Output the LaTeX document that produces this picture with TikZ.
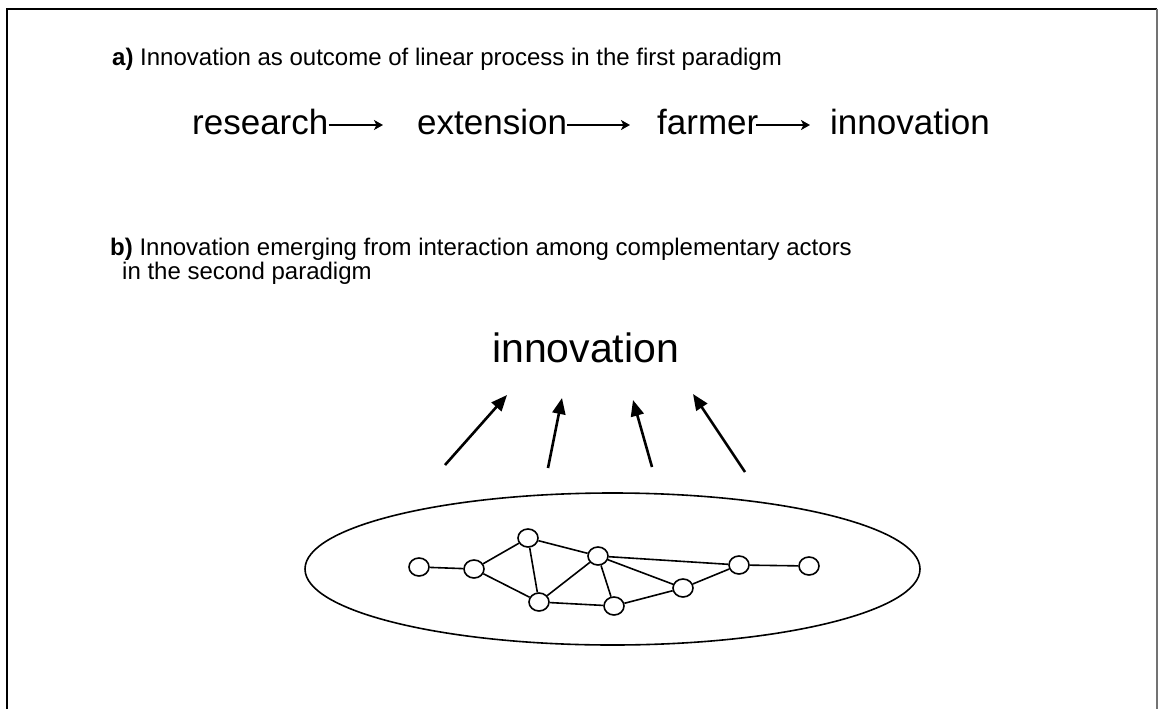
\documentclass[tikz,border=0pt]{standalone}
\usepackage{fontspec}
\setmainfont{Liberation Sans}
\usetikzlibrary{arrows.meta,shapes.geometric}
\begin{document}
\begin{tikzpicture}[x=1pt,y=-1pt,
  lbl/.style={anchor=base west, inner sep=0pt, font=\fontsize{24}{24}\selectfont},
  word/.style={anchor=base west, inner sep=0pt, text height=18pt, text depth=0pt, font=\fontsize{35}{35}\selectfont},
  bigword/.style={anchor=base west, inner sep=0pt, font=\fontsize{41}{41}\selectfont},
  arrA/.style={line width=1.8pt, -{Stealth[length=9pt,width=10pt,inset=2.5pt]}},
  arrB/.style={line width=2.6pt, -{Triangle[length=16pt,width=13pt]}},
  actor/.style={draw, line width=1.6pt, ellipse, minimum width=20pt, minimum height=18pt, inner sep=0pt, fill=white},
  tie/.style={line width=1.6pt},
  field/.style={draw, line width=1.6pt, ellipse, minimum width=615pt, minimum height=152pt, inner sep=0pt},
  frameline/.style={line width=2pt}]
\useasboundingbox (0,0) rectangle (1158,709);
% frame
\draw[frameline] (7,709) -- (7,9) -- (1157,9);
\draw[line width=1.2pt, black!55] (1157,9) -- (1157,709);

% part a
\node[lbl] (alabel) at (112,65) {\textbf{a)} Innovation as outcome of linear process in the first paradigm};
\node[word] (research) at (192,134) {research};
\node[word] (extension) at (417,134) {extension};
\node[word] (farmer) at (657,134) {farmer};
\node[word] (innovA) at (830,134) {innovation};
\draw[arrA, shorten >=34pt] (research.east) -- (extension.west);
\draw[arrA, shorten >=27pt] (extension.east) -- (farmer.west);
\draw[arrA, shorten <=-3pt, shorten >=20pt] (farmer.east) -- (innovA.west);

% part b
\node[lbl] (blabel) at (110,255) {\textbf{b)} Innovation emerging from interaction among complementary actors};
\node[lbl] (blabel2) at (122,279) {in the second paradigm};
\node[bigword] (innovB) at (492,362) {innovation};

\coordinate (t1) at (445,465); \coordinate (h1) at (507,395);
\coordinate (t2) at (548,468); \coordinate (h2) at (562,398);
\coordinate (t3) at (652,467); \coordinate (h3) at (633,400);
\coordinate (t4) at (745,472); \coordinate (h4) at (693,394);
\draw[arrB] (t1) -- (h1);
\draw[arrB] (t2) -- (h2);
\draw[arrB] (t3) -- (h3);
\draw[arrB] (t4) -- (h4);

% network
\node[field] (net) at (612.5,569) {};
\node[actor] (n1) at (419,567) {};
\node[actor] (n2) at (474,569) {};
\node[actor] (n3) at (528,538) {};
\node[actor] (n4) at (598,556) {};
\node[actor] (n5) at (539,602) {};
\node[actor] (n6) at (614,606) {};
\node[actor] (n7) at (683,588) {};
\node[actor] (n8) at (739,565) {};
\node[actor] (n9) at (809,566) {};
\draw[tie] (n1) -- (n2);
\draw[tie] (n2) -- (n3);
\draw[tie] (n2) -- (n5);
\draw[tie] (n3) -- (n5);
\draw[tie] (n3) -- (n4);
\draw[tie] (n4) -- (n5);
\draw[tie] (n4) -- (n6);
\draw[tie] (n5) -- (n6);
\draw[tie] (n4) -- (n8);
\draw[tie] (n4) -- (n7);
\draw[tie] (n6) -- (n7);
\draw[tie] (n7) -- (n8);
\draw[tie] (n8) -- (n9);
\end{tikzpicture}
\end{document}
